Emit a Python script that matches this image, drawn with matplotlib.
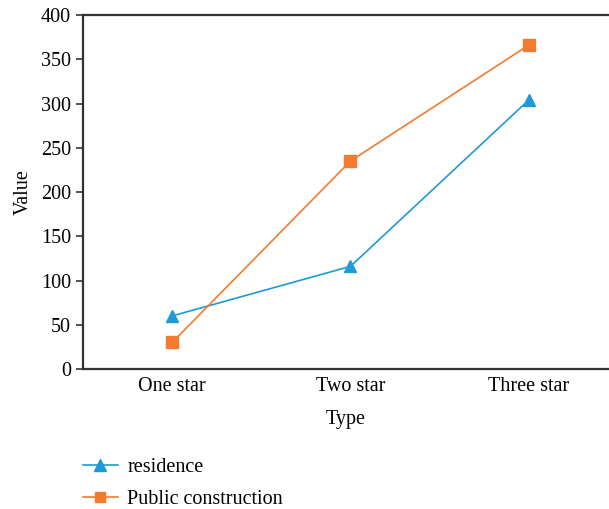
import matplotlib
matplotlib.use("Agg")
import matplotlib.pyplot as plt
from matplotlib.lines import Line2D

categories = ["One star", "Two star", "Three star"]
residence = [60, 116, 304]
public = [30, 235, 366]

blue = "#1e9ad6"
orange = "#f47a30"

plt.rcParams["font.family"] = ["Liberation Serif", "DejaVu Serif"]

fig = plt.figure(figsize=(6.09, 5.09), dpi=100)
ax = fig.add_axes([0.1363, 0.275, 0.8637, 0.6955])

x = range(len(categories))
ax.plot(x, residence, color=blue, lw=1.2, marker="^", ms=9, label="residence")
ax.plot(x, public, color=orange, lw=1.2, marker="s", ms=8, label="Public construction")

ax.set_xlim(-0.5, 2.45)
ax.set_ylim(0, 400)
ax.set_yticks(range(0, 401, 50))
ax.set_xticks(list(x))
ax.set_xticklabels(categories)
ax.tick_params(axis="x", length=0, labelsize=14.5, pad=6)
ax.tick_params(axis="y", length=5, width=1.2, labelsize=14.5, color="#333333")
ax.set_xlabel("Type", fontsize=14.5, labelpad=10)
ax.set_ylabel("Value", fontsize=14.5, labelpad=6)

for s in ["left", "bottom", "top"]:
    ax.spines[s].set_linewidth(1.6)
    ax.spines[s].set_color("#333333")
ax.spines["right"].set_visible(False)

handles = [
    Line2D([], [], color=blue, lw=1.2, marker="^", ms=8),
    Line2D([], [], color=orange, lw=1.2, marker="s", ms=7),
]
fig.legend(handles, ["residence", "Public construction"], loc="upper left",
           bbox_to_anchor=(0.136, 0.100), frameon=False, fontsize=14.5,
           handlelength=1.75, labelspacing=0.65, borderaxespad=0, handletextpad=0.45,
           borderpad=0)

fig.savefig("out.png", dpi=100)
